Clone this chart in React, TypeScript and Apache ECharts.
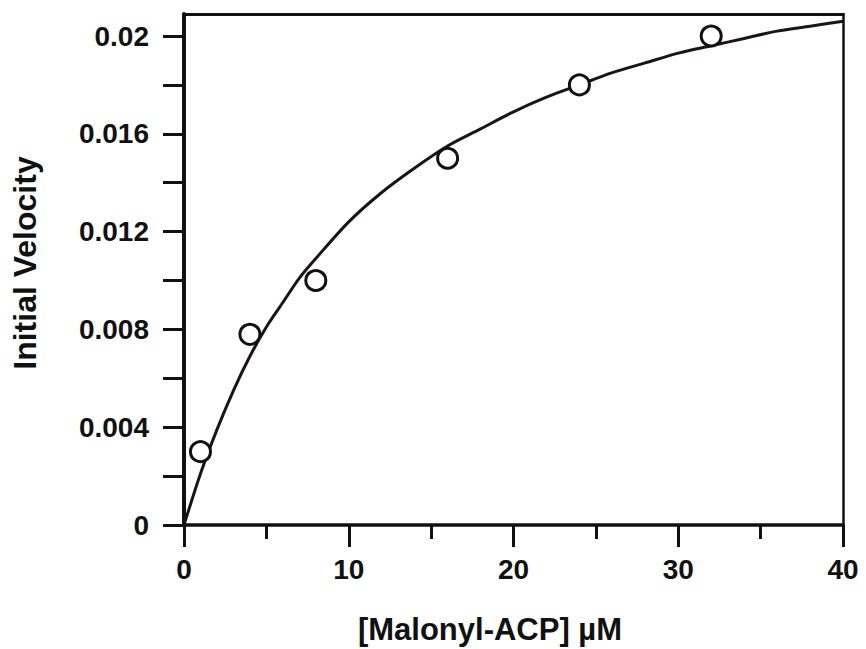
import React, { useEffect, useRef } from "react";
import * as echarts from "echarts";

// Measured data points (substrate concentration, initial velocity)
const pointX = [1, 4, 8, 16, 24, 32];
const pointY = [0.003, 0.0078, 0.01, 0.015, 0.018, 0.02];

// Fitted curve
const curveX = [0, 1, 2, 3, 4, 5, 6, 7, 8, 10, 12, 14, 16, 18, 20, 22, 24, 26, 28, 30, 32, 34, 36, 38, 40];
const curveY = [
  0, 0.0021, 0.0039, 0.0055, 0.0069, 0.0081, 0.0091, 0.0101, 0.0109, 0.0124, 0.0136, 0.0146, 0.0155,
  0.0162, 0.0169, 0.0175, 0.018, 0.0185, 0.0189, 0.0193, 0.0196, 0.0199, 0.0202, 0.0204, 0.0206,
];

const xTickValues = [0, 10, 20, 30, 40];
const xTickLabels = ["0", "10", "20", "30", "40"];
const yLabelValues = [0, 0.004, 0.008, 0.012, 0.016, 0.02];
const yTickLabels = ["0", "0.004", "0.008", "0.012", "0.016", "0.02"];
const yTickValues = [0, 0.002, 0.004, 0.006, 0.008, 0.01, 0.012, 0.014, 0.016, 0.018, 0.02];

const xTitle = "[Malonyl-ACP] µM";
const yTitle = "Initial Velocity";

const FONT = "'Liberation Sans', Arial, Helvetica, sans-serif";
const INK = "#111111";

export default function App() {
  const ref = useRef<HTMLDivElement>(null);

  useEffect(() => {
    if (!ref.current) return;
    const chart = echarts.init(ref.current, undefined, { renderer: "svg" });
    const labelStyle = {
      fontFamily: FONT,
      fontWeight: "bold" as const,
      fontSize: 28,
      color: INK,
    };
    chart.setOption({
      animation: false,
      backgroundColor: "#ffffff",
      grid: { left: 184, right: 23, top: 14, bottom: 124, containLabel: false },
      xAxis: [
        {
          type: "value",
          position: "bottom",
          min: 0,
          max: 40,
          interval: 10,
          axisLine: { show: true, onZero: false, lineStyle: { color: INK, width: 3.5 } },
          axisTick: { show: true, length: 22, lineStyle: { color: INK, width: 3 } },
          minorTick: { show: true, splitNumber: 2, length: 14, lineStyle: { color: INK, width: 3 } },
          splitLine: { show: false },
          minorSplitLine: { show: false },
          axisLabel: {
            ...labelStyle,
            margin: 30,
            formatter: (v: number) => {
              const i = xTickValues.indexOf(v);
              return i >= 0 ? xTickLabels[i] : "";
            },
          },
        },
        {
          type: "value",
          position: "top",
          min: 0,
          max: 40,
          axisLine: { show: true, onZero: false, lineStyle: { color: INK, width: 3 } },
          axisTick: { show: false },
          axisLabel: { show: false },
          splitLine: { show: false },
        },
      ],
      yAxis: [
        {
          type: "value",
          position: "left",
          min: 0,
          max: 0.0209,
          axisLine: { show: true, onZero: false, lineStyle: { color: INK, width: 4 } },
          axisTick: { show: true, length: 21, customValues: yTickValues, lineStyle: { color: INK, width: 3 } },
          splitLine: { show: false },
          axisLabel: {
            ...labelStyle,
            margin: 35,
            customValues: yLabelValues,
            formatter: (v: number) => {
              let best = -1;
              for (let i = 0; i < yLabelValues.length; i++) {
                if (Math.abs(yLabelValues[i] - v) < 1e-7) best = i;
              }
              return best >= 0 ? yTickLabels[best] : "";
            },
          },
        },
        {
          type: "value",
          position: "right",
          min: 0,
          max: 0.0209,
          axisLine: { show: true, onZero: false, lineStyle: { color: INK, width: 2.5 } },
          axisTick: { show: false },
          axisLabel: { show: false },
          splitLine: { show: false },
        },
      ],
      graphic: [
        {
          type: "text",
          x: 490,
          y: 629,
          style: {
            text: xTitle,
            fontFamily: FONT,
            fontWeight: "bold",
            fontSize: 31,
            fill: INK,
            textAlign: "center",
            textVerticalAlign: "middle",
          },
        },
        {
          type: "text",
          x: 25,
          y: 263,
          rotation: Math.PI / 2,
          style: {
            text: yTitle,
            fontFamily: FONT,
            fontWeight: "bold",
            fontSize: 32,
            fill: INK,
            textAlign: "center",
            textVerticalAlign: "middle",
          },
        },
      ],
      series: [
        {
          type: "line",
          xAxisIndex: 0,
          yAxisIndex: 0,
          data: curveX.map((x, i) => [x, curveY[i]]),
          smooth: 0.3,
          symbol: "none",
          lineStyle: { color: "#1a1515", width: 3 },
          z: 2,
        },
        {
          type: "scatter",
          xAxisIndex: 0,
          yAxisIndex: 0,
          data: pointX.map((x, i) => [x, pointY[i]]),
          symbol: "circle",
          symbolSize: 20,
          itemStyle: { color: "#ffffff", borderColor: INK, borderWidth: 3, opacity: 1 },
          z: 3,
        },
      ],
    });
    return () => chart.dispose();
  }, []);

  return (
    <div
      ref={ref}
      style={{ position: "absolute", left: 0, top: 0, width: 866, height: 649, background: "#fff" }}
    />
  );
}
